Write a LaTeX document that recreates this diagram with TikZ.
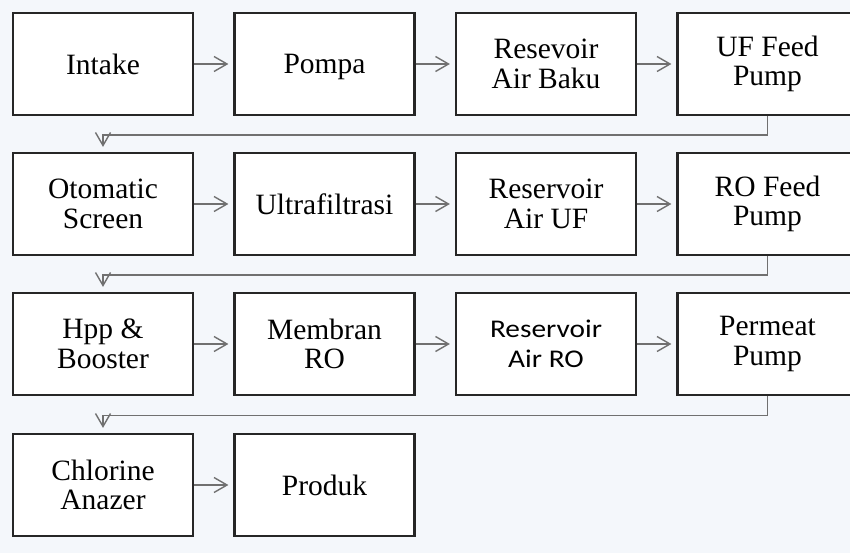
\documentclass[tikz,border=0pt]{standalone}
\usepackage{fontspec}
\setmainfont{Liberation Serif}
\newfontfamily\calibfont[FakeStretch=1.15]{Carlito}
\usetikzlibrary{arrows.meta}
\definecolor{bg}{HTML}{F4F7FB}
\definecolor{bord}{HTML}{262626}
\definecolor{conn}{HTML}{707070}
\begin{document}
\begin{tikzpicture}[x=1pt,y=-1pt,
  box/.style={draw=bord, line width=2.2pt, fill=white, minimum width=180pt, minimum height=102pt,
    inner sep=0pt, align=center, font=\fontsize{29.5}{29.5}\selectfont},
  sbox/.style={box, font=\calibfont\fontsize{25.5}{30}\selectfont},
  arr/.style={draw=conn, line width=1.4pt, -{Straight Barb[length=13pt,width=15pt]}, shorten >=5pt}]
\fill[bg] (0,0) rectangle (850,553);
\useasboundingbox (0,0) rectangle (850,553);
\clip (0,0) rectangle (850,553);
% row 1
\node[box] (intake) at (103,64) {Intake};
\node[box] (pompa) at (324.5,64) {\raisebox{0pt}[\height][0pt]{Pompa}};
\node[box] (resbaku) at (546,64) {Resevoir\\Air Baku};
\node[box] (uffeed) at (767.5,64) {UF Feed\\Pump};
% row 2
\node[box] (screen) at (103,204) {Otomatic\\Screen};
\node[box] (uf) at (324.5,204) {Ultrafiltrasi};
\node[box] (resuf) at (546,204) {Reservoir\\Air UF};
\node[box] (rofeed) at (767.5,204) {RO Feed\\Pump};
% row 3
\node[box] (hpp) at (103,344) {Hpp \&\\Booster};
\node[box] (membran) at (324.5,344) {Membran\\RO};
\node[sbox] (resro) at (546,344) {Reservoir\\Air RO};
\node[box] (permeat) at (767.5,344) {Permeat\\Pump};
% row 4
\node[box] (chlor) at (103,485) {Chlorine\\Anazer};
\node[box] (produk) at (324.5,485) {Produk};
% connectors
\draw[arr] (intake) -- (pompa);
\draw[arr] (pompa) -- (resbaku);
\draw[arr] (resbaku) -- (uffeed);
\draw[arr] (uffeed.south) -- ++(0,19) -| (screen.north);
\draw[arr] (screen) -- (uf);
\draw[arr] (uf) -- (resuf);
\draw[arr] (resuf) -- (rofeed);
\draw[arr] (rofeed.south) -- ++(0,19) -| (hpp.north);
\draw[arr] (hpp) -- (membran);
\draw[arr] (membran) -- (resro);
\draw[arr] (resro) -- (permeat);
\draw[arr] (permeat.south) -- ++(0,19.5) -| (chlor.north);
\draw[arr] (chlor) -- (produk);
\end{tikzpicture}
\end{document}
